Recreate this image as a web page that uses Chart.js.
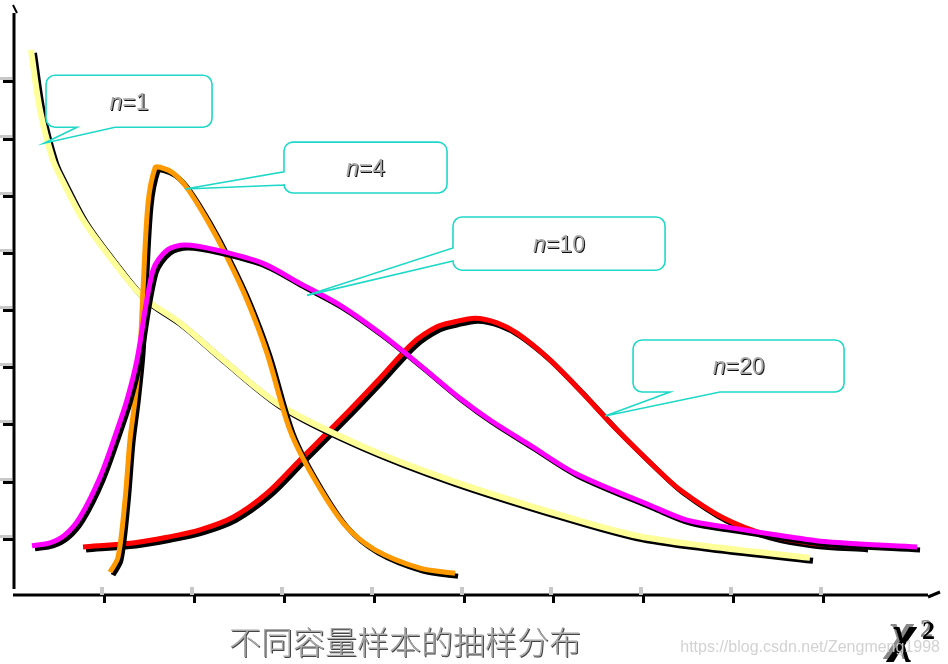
<!DOCTYPE html>
<html>
<head>
<meta charset="utf-8">
<script src="https://cdn.jsdelivr.net/npm/chart.js@4"></script>
<style>
  html, body { margin: 0; padding: 0; background: #fff; overflow: hidden; }
  canvas { display: block; }
</style>
</head>
<body>
<canvas id="chi2Chart" width="948" height="664"></canvas>
<script>
// chi-square densities for different sample sizes (axis units)
const n1Chi = [0.20, 0.30, 0.445, 0.545, 0.779, 1.079, 1.446, 1.858, 2.303, 2.970, 3.860, 4.861, 6.085, 6.897, 7.642, 8.865];
const n1Density = [9.53, 8.48, 7.60, 7.26, 6.56, 5.91, 5.21, 4.76, 4.16, 3.32, 2.62, 2.01, 1.40, 1.05, 0.87, 0.65];

const n4Chi = [1.079, 1.168, 1.246, 1.301, 1.357, 1.413, 1.446, 1.502, 1.580, 1.635, 1.780, 1.935, 2.158, 2.380, 2.603, 2.825, 3.081, 3.359, 3.693, 4.027, 4.527, 4.917];
const n4Density = [0.40, 0.66, 1.66, 2.71, 3.41, 4.28, 5.33, 6.85, 7.47, 7.48, 7.38, 7.12, 6.56, 5.91, 5.16, 4.23, 2.88, 2.01, 1.22, 0.79, 0.47, 0.38];

const n10Chi = [0.211, 0.412, 0.578, 0.745, 0.968, 1.157, 1.268, 1.379, 1.557, 1.713, 1.913, 2.269, 2.781, 3.192, 3.637, 4.082, 4.527, 4.972, 5.306, 5.751, 6.251, 7.086, 7.497, 8.009, 8.498, 9.055, 10.056];
const n10Density = [0.86, 0.91, 1.05, 1.36, 2.06, 2.88, 3.41, 4.11, 5.68, 6.03, 6.12, 6.03, 5.80, 5.45, 5.07, 4.58, 4.02, 3.44, 3.06, 2.62, 2.13, 1.57, 1.31, 1.17, 1.05, 0.93, 0.84];

const n20Chi = [0.779, 1.335, 1.713, 2.080, 2.447, 2.825, 3.192, 3.693, 4.082, 4.449, 4.716, 4.894, 5.139, 5.384, 5.606, 5.940, 6.307, 6.674, 7.164, 7.419, 7.898, 8.387, 8.865, 9.477];
const n20Density = [0.84, 0.91, 1.01, 1.14, 1.36, 1.78, 2.36, 3.15, 3.79, 4.41, 4.69, 4.77, 4.84, 4.76, 4.58, 4.16, 3.58, 2.96, 2.20, 1.84, 1.35, 1.05, 0.91, 0.84];

const xTickValues = [1, 2, 3, 4, 5, 6, 7, 8, 9];
const yTickValues = [1, 2, 3, 4, 5, 6, 7, 8, 9];

const sampleSizes = ['1', '4', '10', '20'];
const chartTitle = '不同容量样本的抽样分布';
const watermark = 'https://blog.csdn.net/Zengmeng1998';

// callout boxes, in axis units: box corners, where the pointer leaves the box, pointer tip
const callouts = [
    { label: sampleSizes[0], x0: 0.367, x1: 2.214, y0: 9.09, y1: 8.18, edge: 'bottom', base: [0.712, 1.135], tip: [0.345, 7.90] },
    { label: sampleSizes[1], x0: 3.014, x1: 4.828, y0: 7.92, y1: 7.03, edge: 'left', base: [7.40, 7.17], tip: [1.913, 7.10] },
    { label: sampleSizes[2], x0: 4.894, x1: 7.253, y0: 6.61, y1: 5.68, edge: 'left', base: [6.07, 5.84], tip: [3.270, 5.24] },
    { label: sampleSizes[3], x0: 6.897, x1: 9.244, y0: 4.46, y1: 3.55, edge: 'bottom', base: [7.308, 7.864], tip: [6.585, 3.13] }
];

const toPoints = (xs, ys) => xs.map((x, i) => ({ x: x, y: ys[i] }));

function curve(label, xs, ys, color, width) {
    return {
        label: label,
        data: toPoints(xs, ys),
        borderColor: color,
        borderWidth: width,
        showLine: true,
        pointRadius: 0,
        tension: 0.3,
        borderCapStyle: 'butt',
        borderJoinStyle: 'round',
        clip: false
    };
}

// black drop shadow under every curve
const shadowPlugin = {
    id: 'shadow',
    beforeDatasetDraw(chart) {
        const ctx = chart.ctx;
        ctx.save();
        ctx.shadowColor = '#000';
        ctx.shadowBlur = 0;
        ctx.shadowOffsetX = 3;
        ctx.shadowOffsetY = 3;
    },
    afterDatasetDraw(chart) {
        chart.ctx.restore();
    }
};

// hand drawn looking axes with ticks
const axesPlugin = {
    id: 'axes',
    beforeDatasetsDraw(chart) {
        const ctx = chart.ctx;
        const xs = chart.scales.x, ys = chart.scales.y;
        const ox = xs.getPixelForValue(0) + 1;
        const oy = ys.getPixelForValue(0);
        ctx.save();
        ctx.strokeStyle = '#000';
        ctx.lineWidth = 3;
        ctx.lineCap = 'butt';
        // y axis
        ctx.beginPath();
        ctx.moveTo(ox, oy - 6);
        ctx.lineTo(ox, 13);
        ctx.stroke();
        ctx.lineWidth = 2;
        ctx.beginPath();
        ctx.moveTo(ox - 1, 5);
        ctx.lineTo(ox + 3, 13);
        ctx.stroke();
        // x axis
        ctx.lineWidth = 3;
        ctx.beginPath();
        ctx.moveTo(ox - 1, oy);
        ctx.lineTo(928, oy);
        ctx.stroke();
        ctx.beginPath();
        ctx.moveTo(928, oy + 2);
        ctx.lineTo(940, oy - 3);
        ctx.stroke();
        // ticks
        yTickValues.forEach(v => {
            const py = Math.round(ys.getPixelForValue(v));
            ctx.fillStyle = '#c8c8c8';
            ctx.fillRect(0, py - 3, 12, 3);
            ctx.fillStyle = '#000';
            ctx.fillRect(3, py, 11, 3);
        });
        xTickValues.forEach(v => {
            const px = Math.round(xs.getPixelForValue(v));
            ctx.fillStyle = '#c8c8c8';
            ctx.fillRect(px - 3, oy - 8, 4, 8);
            ctx.fillStyle = '#000';
            ctx.fillRect(px, oy, 3, 8);
        });
        ctx.restore();
    },
    afterDraw(chart) {
        const ctx = chart.ctx;
        const xs = chart.scales.x, ys = chart.scales.y;
        ctx.save();
        callouts.forEach(c => drawCallout(ctx, c, xs, ys));

        // title
        ctx.font = '300 32px "Noto Sans CJK SC"';
        ctx.textAlign = 'center';
        ctx.textBaseline = 'middle';
        ctx.fillStyle = '#444';
        ctx.fillText(chartTitle, 406, 643);
        ctx.fillStyle = '#a8a8a8';
        ctx.fillText(chartTitle, 405, 642);

        // chi squared symbol
        ctx.textAlign = 'left';
        ctx.textBaseline = 'alphabetic';
        ctx.font = 'italic bold 52px "Liberation Serif"';
        ctx.fillStyle = '#888';
        ctx.fillText('χ', 889, 648);
        ctx.fillStyle = '#000';
        ctx.fillText('χ', 892, 651);
        ctx.font = 'bold 26px "Liberation Serif"';
        ctx.fillStyle = '#888';
        ctx.fillText('2', 920, 637);
        ctx.fillStyle = '#000';
        ctx.fillText('2', 922, 639);

        // watermark
        ctx.font = '16px "Liberation Sans"';
        ctx.textAlign = 'right';
        ctx.fillStyle = 'rgba(205,205,205,0.9)';
        ctx.fillText(watermark, 940, 652);
        ctx.restore();
    }
};

function drawCallout(ctx, c, xs, ys) {
    const x0 = xs.getPixelForValue(c.x0), x1 = xs.getPixelForValue(c.x1);
    const y0 = ys.getPixelForValue(c.y0), y1 = ys.getPixelForValue(c.y1);
    const tx = xs.getPixelForValue(c.tip[0]), ty = ys.getPixelForValue(c.tip[1]);
    const r = 9;
    ctx.beginPath();
    ctx.moveTo(x0 + r, y0);
    ctx.lineTo(x1 - r, y0);
    ctx.arcTo(x1, y0, x1, y0 + r, r);
    ctx.lineTo(x1, y1 - r);
    ctx.arcTo(x1, y1, x1 - r, y1, r);
    if (c.edge === 'bottom') {
        ctx.lineTo(xs.getPixelForValue(c.base[1]), y1);
        ctx.lineTo(tx, ty);
        ctx.lineTo(xs.getPixelForValue(c.base[0]), y1);
    }
    ctx.lineTo(x0 + r, y1);
    ctx.arcTo(x0, y1, x0, y1 - r, r);
    if (c.edge === 'left') {
        ctx.lineTo(x0, ys.getPixelForValue(c.base[1]));
        ctx.lineTo(tx, ty);
        ctx.lineTo(x0, ys.getPixelForValue(c.base[0]));
    }
    ctx.lineTo(x0, y0 + r);
    ctx.arcTo(x0, y0, x0 + r, y0, r);
    ctx.closePath();
    ctx.fillStyle = '#fff';
    ctx.fill();
    ctx.strokeStyle = '#1ed8c8';
    ctx.lineWidth = 1.6;
    ctx.stroke();

    // "n=.." label, italic n
    const cx = (x0 + x1) / 2, cy = (y0 + y1) / 2 + 2;
    const italic = 'italic 23px "Liberation Sans"';
    const upright = '23px "Liberation Sans"';
    ctx.font = italic;
    const wn = ctx.measureText('n').width;
    ctx.font = upright;
    const wr = ctx.measureText('=' + c.label).width;
    const sx = cx - (wn + wr) / 2;
    ctx.textBaseline = 'middle';
    ctx.textAlign = 'left';
    [['#111', 1, 1], ['#a8a8a8', 0, 0]].forEach(([col, dx, dy]) => {
        ctx.fillStyle = col;
        ctx.font = italic;
        ctx.fillText('n', sx + dx, cy + dy);
        ctx.font = upright;
        ctx.fillText('=' + c.label, sx + wn + dx, cy + dy);
    });
}

const ctx = document.getElementById('chi2Chart').getContext('2d');
new Chart(ctx, {
    type: 'scatter',
    data: {
        datasets: [
            curve('n=10', n10Chi, n10Density, '#ff00ff', 5),
            curve('n=4', n4Chi, n4Density, '#ff9900', 5),
            curve('n=1', n1Chi, n1Density, '#ffff99', 6),
            curve('n=20', n20Chi, n20Density, '#ff0000', 5)
        ]
    },
    options: {
        responsive: false,
        animation: false,
        layout: { padding: { left: 13, right: 9, top: 6, bottom: 69 } },
        scales: {
            x: { type: 'linear', min: 0, max: 10.3, display: false },
            y: { type: 'linear', min: 0, max: 10.3, display: false }
        },
        plugins: {
            legend: { display: false },
            tooltip: { enabled: false }
        }
    },
    plugins: [shadowPlugin, axesPlugin]
});
</script>
</body>
</html>
